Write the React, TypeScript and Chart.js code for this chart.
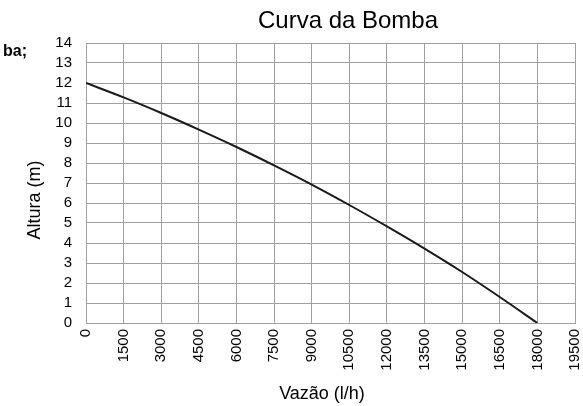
import React, { useEffect, useRef } from "react";
import { Chart, registerables } from "chart.js";

Chart.register(...registerables);

const flowValues = [0, 1500, 3000, 4500, 6000, 7500, 9000, 10500, 12000, 13500, 15000, 16500, 18000];
const headValues = [12, 11.28, 10.5, 9.67, 8.8, 7.88, 6.92, 5.9, 4.83, 3.72, 2.55, 1.3, 0];
const chartTitle = "Curva da Bomba";
const xTitle = "Vazão (l/h)";
const yTitle = "Altura (m)";
const legendFragment = "ba;";

const FONT = "'Liberation Sans', Arial, sans-serif";

const textPlugin = {
  id: "customText",
  afterDraw(chart: any) {
    const ctx = chart.ctx;
    ctx.save();
    ctx.fillStyle = "#000";
    ctx.textBaseline = "alphabetic";
    ctx.font = `24px ${FONT}`;
    ctx.textAlign = "center";
    ctx.fillText(chartTitle, 348, 28);
    ctx.font = `18px ${FONT}`;
    ctx.fillText(xTitle, 322, 399);
    ctx.save();
    ctx.translate(40, 200);
    ctx.rotate(-Math.PI / 2);
    ctx.textAlign = "center";
    ctx.fillText(yTitle, 0, 0);
    ctx.restore();
    ctx.font = `bold 16px ${FONT}`;
    ctx.textAlign = "right";
    ctx.fillText(legendFragment, 27, 56);
    ctx.restore();
  },
};

export default function App() {
  const ref = useRef<HTMLCanvasElement>(null);
  useEffect(() => {
    if (!ref.current) return;
    const chart = new Chart(ref.current, {
      type: "line",
      data: {
        datasets: [
          {
            data: flowValues.map((x, i) => ({ x, y: headValues[i] })),
            borderColor: "#1a1a1a",
            borderWidth: 2,
            pointRadius: 0,
            tension: 0.3,
            fill: false,
          },
        ],
      },
      options: {
        animation: false,
        responsive: false,
        layout: { padding: { left: 0, top: 43, right: 8, bottom: 0 } },
        plugins: { legend: { display: false }, title: { display: false }, tooltip: { enabled: false } },
        scales: {
          x: {
            type: "linear",
            min: 0,
            max: 19500,
            afterFit: (s: any) => {
              s.height = 83;
              s.paddingRight = 0;
              s.paddingLeft = 0;
            },
            ticks: {
              stepSize: 1500,
              autoSkip: false,
              maxRotation: 90,
              minRotation: 90,
              padding: 6,
              color: "#000",
              font: { family: FONT, size: 15 },
              callback: (v: any) => String(v),
            },
            grid: { color: "#a0a0a0", lineWidth: 1, drawTicks: false },
            border: { color: "#a0a0a0", width: 1 },
          },
          y: {
            min: 0,
            max: 14,
            afterFit: (s: any) => {
              s.width = 86;
              s.paddingTop = 0;
              s.paddingBottom = 0;
            },
            ticks: {
              stepSize: 1,
              autoSkip: false,
              padding: 14,
              color: "#000",
              font: { family: FONT, size: 15 },
              callback: (v: any) => String(v),
            },
            grid: { color: "#a0a0a0", lineWidth: 1, drawTicks: false },
            border: { color: "#a0a0a0", width: 1 },
          },
        },
      },
      plugins: [textPlugin],
    } as any);
    return () => chart.destroy();
  }, []);
  return (
    <div style={{ position: "absolute", left: 0, top: 0, width: 583, height: 406, background: "#fff" }}>
      <canvas ref={ref} width={583} height={406} style={{ display: "block" }} />
    </div>
  );
}
